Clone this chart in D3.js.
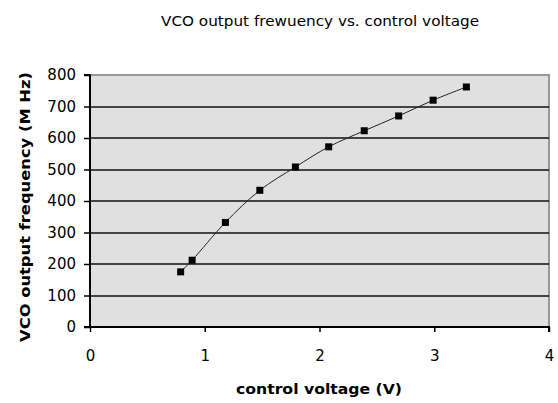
<!DOCTYPE html>
<html>
<head>
<meta charset="utf-8">
<script src="https://cdn.jsdelivr.net/npm/d3@7"></script>
<style>
  body { margin: 0; background: #fff; }
  svg { display: block; }
</style>
</head>
<body>
<div id="chart"></div>
<script>
// control voltage (V) and VCO output frequency (MHz)
var voltage = [0.79, 0.89, 1.18, 1.48, 1.79, 2.08, 2.39, 2.69, 2.99, 3.28];
var frequency = [175, 212, 332, 434, 508, 572, 623, 670, 720, 762];
var xTicks = [0, 1, 2, 3, 4];
var yTicks = [0, 100, 200, 300, 400, 500, 600, 700, 800];

var W = 558, H = 403;
var margin = { top: 75, right: 9, bottom: 76, left: 90 },
  width = W - margin.left - margin.right,
  height = H - margin.top - margin.bottom;

var x = d3.scaleLinear().domain([0, 4]).range([0, width]);
var y = d3.scaleLinear().domain([0, 800]).range([height, 0]);

var root = d3.select("#chart").append("svg")
  .attr("width", W)
  .attr("height", H);

var svg = root.append("g")
  .attr("transform", "translate(" + margin.left + "," + margin.top + ")");

// plot area
svg.append("rect")
  .attr("width", width)
  .attr("height", height)
  .attr("fill", "#e0e0e0");

// top / right border
svg.append("path")
  .attr("d", "M0,0H" + width + "V" + height)
  .attr("fill", "none")
  .attr("stroke", "#999")
  .attr("stroke-width", 2);

// grid lines
svg.append("g")
  .selectAll("line")
  .data(yTicks.filter(function (d) { return d > 0 && d < 800; }))
  .enter()
  .append("line")
  .attr("x1", 0)
  .attr("x2", width)
  .attr("y1", function (d) { return Math.round(y(d)); })
  .attr("y2", function (d) { return Math.round(y(d)); })
  .attr("stroke", "#111")
  .attr("stroke-width", 1.6);

// axes
var yAxis = svg.append("g")
  .call(d3.axisLeft(y).tickValues(yTicks).tickSize(6).tickPadding(8));
var xAxis = svg.append("g")
  .attr("transform", "translate(0," + height + ")")
  .call(d3.axisBottom(x).tickValues(xTicks).tickFormat(d3.format("d")).tickSize(5).tickPadding(18));

[yAxis, xAxis].forEach(function (a) {
  a.select(".domain").attr("stroke", "#000").attr("stroke-width", 2);
  a.selectAll(".tick line").attr("stroke", "#000").attr("stroke-width", 1.5);
  a.selectAll("text")
    .attr("fill", "#000")
    .style("font-family", "DejaVu Sans, sans-serif")
    .style("font-size", "15px");
});
yAxis.select(".domain").attr("d", "M-6,0H0V" + height + "H-6");
xAxis.select(".domain").attr("d", "M-6,0H" + width + "V5");

// smoothed line
var pts = voltage.map(function (v, i) { return [v, frequency[i]]; });
svg.append("path")
  .datum(pts)
  .attr("fill", "none")
  .attr("stroke", "#222")
  .attr("stroke-width", 1)
  .attr("d", d3.line()
    .x(function (d) { return x(d[0]); })
    .y(function (d) { return y(d[1]); })
    .curve(d3.curveCatmullRom.alpha(0.5)));

// markers
svg.selectAll(".pt")
  .data(pts)
  .enter()
  .append("rect")
  .attr("x", function (d) { return x(d[0]) - 3.5; })
  .attr("y", function (d) { return y(d[1]) - 3.5; })
  .attr("width", 7)
  .attr("height", 7)
  .attr("fill", "#000");

// titles
root.append("text")
  .attr("x", 320)
  .attr("y", 26)
  .attr("text-anchor", "middle")
  .attr("textLength", 318)
  .attr("lengthAdjust", "spacingAndGlyphs")
  .style("font-family", "DejaVu Sans, sans-serif")
  .style("font-size", "14px")
  .text("VCO output frewuency vs. control voltage");

root.append("text")
  .attr("x", 319)
  .attr("y", 394)
  .attr("text-anchor", "middle")
  .attr("textLength", 166)
  .attr("lengthAdjust", "spacingAndGlyphs")
  .style("font-family", "DejaVu Sans, sans-serif")
  .style("font-weight", "bold")
  .style("font-size", "14px")
  .text("control voltage (V)");

root.append("text")
  .attr("transform", "translate(30,207) rotate(-90)")
  .attr("text-anchor", "middle")
  .attr("textLength", 270)
  .attr("lengthAdjust", "spacingAndGlyphs")
  .style("font-family", "DejaVu Sans, sans-serif")
  .style("font-weight", "bold")
  .style("font-size", "14px")
  .text("VCO output frequency (M Hz)");
</script>
</body>
</html>
